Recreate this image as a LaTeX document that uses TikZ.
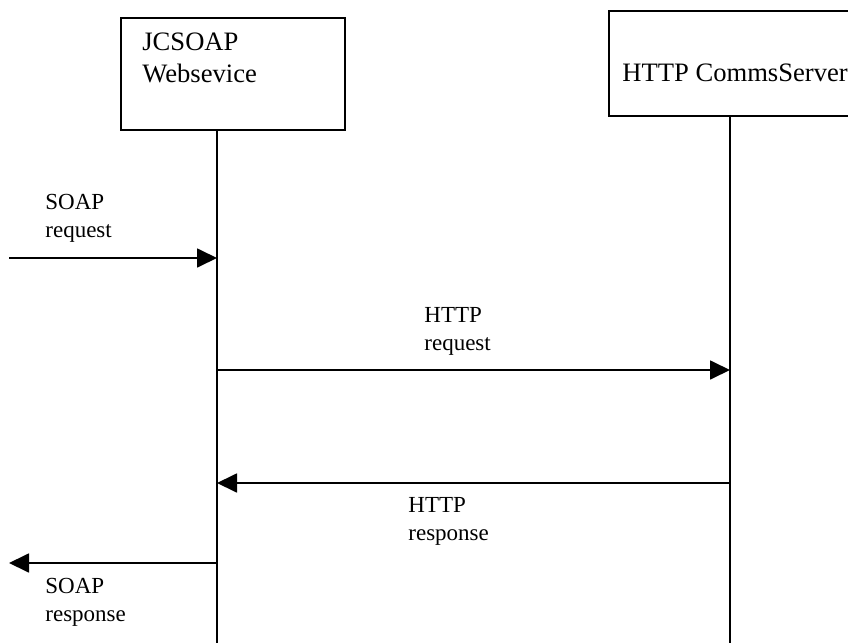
\documentclass[tikz,border=0pt]{standalone}
\usepackage{fontspec}
\setmainfont{Liberation Serif}
\usetikzlibrary{arrows.meta,positioning}

\begin{document}
\begin{tikzpicture}[
    x=0.5pt, y=-0.5pt,
    actor/.style={rectangle, draw, line width=0.9pt, inner sep=0pt},
    life/.style={line width=0.9pt},
    msg/.style={-{Triangle[length=10pt,width=9.5pt]}, line width=0.9pt},
    actorlabel/.style={align=left, inner sep=0pt, anchor=base west, font=\fontsize{13.3}{16}\selectfont},
    msglabel/.style={align=left, inner sep=0pt, anchor=base west, font=\fontsize{11.5}{14}\selectfont}
]
\useasboundingbox (0,0) rectangle (848,643);
\clip (0,0) rectangle (848,643);

% participants
\node[actor, minimum width=112pt, minimum height=56pt] (ws) at (233,74) {};
\node[actor, minimum width=130.5pt, minimum height=52.5pt] (cs) at (739.5,63.5) {};
\node[actorlabel] (wsname) at (142,82) {JCSOAP\\Websevice};
\node[actorlabel] (csname) at (622,81) {HTTP CommsServer};

% lifelines
\coordinate (wsLife) at (217,643);
\coordinate (csLife) at (730,643);
\draw[life] (ws.south -| wsLife) -- (wsLife);
\draw[life] (cs.south -| csLife) -- (csLife);

% messages
\coordinate (soapIn) at (9,258);
\coordinate (soapOut) at (9,563);
\coordinate (httpReq) at (0,370);
\coordinate (httpResp) at (0,483);
\draw[msg] (soapIn) -- (soapIn -| wsLife);
\draw[msg] (wsLife |- httpReq) -- (csLife |- httpReq);
\draw[msg] (csLife |- httpResp) -- (wsLife |- httpResp);
\draw[msg] (wsLife |- soapOut) -- (soapOut);

\node[msglabel] (l1) at (45,237) {SOAP\\request};
\node[msglabel] (l2) at (424,350) {HTTP\\request};
\node[msglabel] (l3) at (408,540) {HTTP\\response};
\node[msglabel] (l4) at (45,621) {SOAP\\response};
\end{tikzpicture}
\end{document}
